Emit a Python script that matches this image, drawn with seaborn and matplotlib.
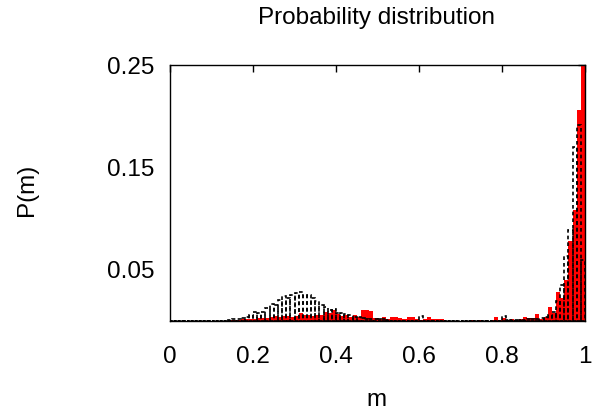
import numpy as np
import pandas as pd
import matplotlib
matplotlib.use("Agg")
import matplotlib.pyplot as plt
import seaborn as sns

# ---- data: histogram of m, 100 bins of width 0.01 on [0, 1] ----
bin_edges = [round(i * 0.01, 2) for i in range(101)]

red_p = [
    0, 0, 0, 0, 0, 0, 0, 0, 0, 0,                                   # 0.00-0.09
    0, 0, 0, 0, 0.001, 0.001, 0.001, 0.002, 0.002, 0.002,            # 0.10-0.19
    0.002, 0.003, 0.003, 0.003, 0.004, 0.005, 0.004, 0.005, 0.005, 0.004,  # 0.20-0.29
    0.005, 0.0075, 0.006, 0.006, 0.005, 0.006, 0.006, 0.009, 0.0075, 0.011,  # 0.30-0.39
    0.007, 0.005, 0.006, 0.004, 0.006, 0.004, 0.011, 0.011, 0.010, 0.003,  # 0.40-0.49
    0.002, 0.004, 0.002, 0.004, 0.004, 0.003, 0.002, 0.004, 0.004, 0.002,  # 0.50-0.59
    0.001, 0.002, 0.004, 0.002, 0.0015, 0.002, 0, 0, 0, 0,          # 0.60-0.69
    0, 0, 0.001, 0, 0.001, 0, 0, 0.001, 0.004, 0.001,                # 0.70-0.79
    0.0026, 0.001, 0.002, 0.001, 0.002, 0.004, 0.0026, 0.0026, 0.007, 0.002,  # 0.80-0.89
    0.004, 0.014, 0.008, 0.028, 0.022, 0.040, 0.078, 0.108, 0.206, 0.27,  # 0.90-0.99
]

black_p = [
    0, 0, 0, 0, 0, 0, 0, 0, 0, 0,                                   # 0.00-0.09
    0, 0, 0, 0, 0.0005, 0.0016, 0.0016, 0.0026, 0.0036, 0.006,       # 0.10-0.19
    0.0085, 0.0075, 0.009, 0.013, 0.0166, 0.0156, 0.0205, 0.024, 0.022, 0.025,  # 0.20-0.29
    0.027, 0.028, 0.025, 0.025, 0.022, 0.020, 0.016, 0.014, 0.011, 0.012,  # 0.30-0.39
    0.0075, 0.0075, 0.007, 0.006, 0.004, 0.0036, 0.003, 0.002, 0.0015, 0.002,  # 0.40-0.49
    0.002, 0.0015, 0.001, 0, 0, 0, 0, 0, 0, 0,                       # 0.50-0.59
    0.005, 0, 0, 0, 0, 0, 0, 0, 0, 0,                                # 0.60-0.69
    0, 0, 0, 0, 0, 0, 0, 0, 0, 0,                                    # 0.70-0.79
    0.005, 0.001, 0.001, 0.001, 0.001, 0.001, 0.002, 0.002, 0.002, 0.003,  # 0.80-0.89
    0.0036, 0.006, 0.009, 0.020, 0.035, 0.063, 0.089, 0.170, 0.191, 0.060,  # 0.90-0.99
]

x_ticks = [0, 0.2, 0.4, 0.6, 0.8, 1.0]
x_tick_labels = ["0", "0.2", "0.4", "0.6", "0.8", "1"]
y_ticks = [0.05, 0.15, 0.25]
y_tick_labels = ["0.05", "0.15", "0.25"]

title = "Probability distribution"
x_label = "m"
y_label = "P(m)"

# ---- figure ----
sns.set_theme(style="white")
plt.rcParams["font.family"] = ["Liberation Sans", "DejaVu Sans"]
plt.rcParams["text.color"] = "black"

W, H = 595, 419
fig = plt.figure(figsize=(W / 100, H / 100), dpi=100)
ax = fig.add_axes([170 / W, 1 - 321 / H, 415 / W, 256 / H])

edges = np.array(bin_edges)
centers = (edges[:-1] + edges[1:]) / 2
df = pd.DataFrame({"m": centers, "red": red_p, "black": black_p})

sns.histplot(data=df, x="m", weights="red", bins=bin_edges, color="red",
             alpha=1, edgecolor="none", linewidth=0, ax=ax)
sns.histplot(data=df, x="m", weights="black", bins=bin_edges, fill=False,
             color="black", linestyle=(0, (2.2, 1.8)), linewidth=1.2, ax=ax)

ax.set_xlim(0, 1)
ax.set_ylim(0, 0.25)
ax.set_xticks(x_ticks)
ax.set_xticklabels(x_tick_labels)
ax.set_yticks(y_ticks)
ax.set_yticklabels(y_tick_labels)
ax.set_xlabel("")
ax.set_ylabel("")
ax.tick_params(direction="in", top=True, right=True, length=5, width=1,
               labelsize=17.5, colors="black")
ax.tick_params(axis="x", pad=18)
ax.tick_params(axis="y", pad=11)
for s in ax.spines.values():
    s.set_color("black")
    s.set_linewidth(1.0)
    s.set_visible(True)

fig.text(377 / W, 1 - 18 / H, title, ha="center", va="center",
         fontsize=17.5, color="black")
fig.text(377 / W, 1 - 400 / H, x_label, ha="center", va="center",
         fontsize=17.5, color="black")
fig.text(27 / W, 1 - 190 / H, y_label, ha="center", va="center",
         rotation=90, fontsize=17.5, color="black")

fig.savefig("out.png", dpi=100)
